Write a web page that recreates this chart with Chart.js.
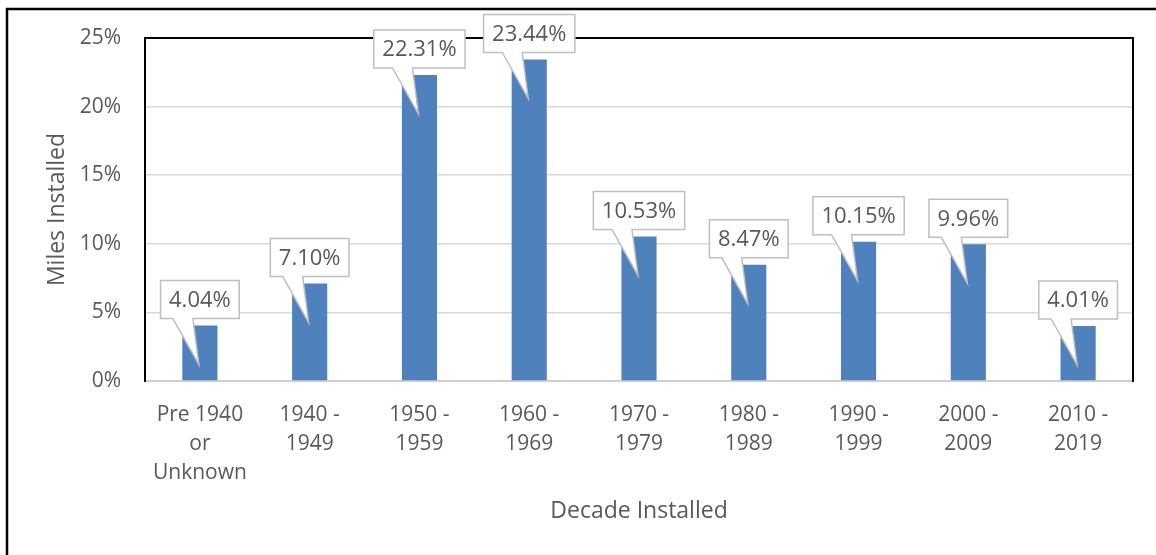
<!DOCTYPE html>
<html>
<head>
<meta charset="utf-8">
<style>
  html, body { margin: 0; padding: 0; background: #ffffff; }
  #wrap { width: 1156px; height: 555px; position: relative; }
</style>
<script src="https://cdn.jsdelivr.net/npm/chart.js@4.4.1/dist/chart.umd.min.js"></script>
</head>
<body>
<div id="wrap"><canvas id="chart" width="1156" height="555"></canvas></div>
<script>
// Share of pipe miles by decade of installation
const decades = [
  ['Pre 1940', 'or', 'Unknown'],
  ['1940 -', '1949'],
  ['1950 -', '1959'],
  ['1960 -', '1969'],
  ['1970 -', '1979'],
  ['1980 -', '1989'],
  ['1990 -', '1999'],
  ['2000 -', '2009'],
  ['2010 -', '2019']
];
const milesPct = [4.04, 7.10, 22.31, 23.44, 10.53, 8.47, 10.15, 9.96, 4.01];
const yTicks = [0, 5, 10, 15, 20, 25];

const FONT = "'Open Sans', 'Noto Sans', sans-serif";
const TEXT = '#595959';

// Outer frame and plot-area borders
const framePlugin = {
  id: 'frame',
  beforeDatasetsDraw(chart) {
    const { ctx, chartArea: a } = chart;
    ctx.save();
    // bottom axis line
    ctx.strokeStyle = '#bfbfbf';
    ctx.lineWidth = 1.5;
    ctx.beginPath();
    ctx.moveTo(a.left, a.bottom);
    ctx.lineTo(a.right, a.bottom);
    ctx.stroke();
    // black border on top, left and right
    ctx.strokeStyle = '#000000';
    ctx.lineWidth = 2;
    ctx.beginPath();
    ctx.moveTo(a.left, a.bottom + 1);
    ctx.lineTo(a.left, a.top);
    ctx.lineTo(a.right, a.top);
    ctx.lineTo(a.right, a.bottom + 1);
    ctx.stroke();
    ctx.restore();
  },
  afterDraw(chart) {
    const { ctx, width, height } = chart;
    ctx.save();
    ctx.strokeStyle = '#000000';
    ctx.lineWidth = 2.5;
    ctx.beginPath();
    ctx.moveTo(7, height);
    ctx.lineTo(7, 9);
    ctx.lineTo(width, 9);
    ctx.stroke();
    ctx.restore();
  }
};

// Callout-style value labels with a pointer into each bar
const calloutPlugin = {
  id: 'callouts',
  afterDraw(chart) {
    const { ctx } = chart;
    const meta = chart.getDatasetMeta(0);
    const values = chart.data.datasets[0].data;
    ctx.save();
    ctx.font = '22px ' + FONT;
    meta.data.forEach((bar, i) => {
      const text = values[i].toFixed(2) + '%';
      const tw = ctx.measureText(text).width;
      const cx = bar.x;
      const top = bar.y;
      const w = tw + 17;
      const h = 38;
      const L = cx - w / 2, R = cx + w / 2;
      const B = top - 7, T = B - h;
      const tipX = cx - 1, tipY = Math.min(top + 39, bar.base - 4);
      ctx.beginPath();
      ctx.moveTo(L, T);
      ctx.lineTo(R, T);
      ctx.lineTo(R, B);
      ctx.lineTo(cx - 7, B);
      ctx.lineTo(tipX, tipY);
      ctx.lineTo(cx - 27, B);
      ctx.lineTo(L, B);
      ctx.closePath();
      ctx.fillStyle = '#ffffff';
      ctx.fill();
      ctx.strokeStyle = '#bfbfbf';
      ctx.lineWidth = 1.5;
      ctx.lineJoin = 'miter';
      ctx.stroke();
      ctx.fillStyle = TEXT;
      ctx.textAlign = 'center';
      ctx.textBaseline = 'middle';
      ctx.fillText(text, cx, (T + B) / 2 + 1);
    });
    ctx.restore();
  }
};

new Chart(document.getElementById('chart'), {
  type: 'bar',
  data: {
    labels: decades,
    datasets: [{
      data: milesPct,
      backgroundColor: '#4f81bd',
      borderWidth: 0,
      categoryPercentage: 1,
      barPercentage: 0.32
    }]
  },
  options: {
    responsive: false,
    animation: false,
    events: [],
    layout: { padding: { top: 38, right: 23, left: 0, bottom: 0 } },
    plugins: {
      legend: { display: false },
      tooltip: { enabled: false }
    },
    scales: {
      x: {
        grid: { display: false, drawTicks: false },
        border: { display: false },
        ticks: {
          color: TEXT,
          font: { family: FONT, size: 21, lineHeight: 1.4 },
          padding: 19,
          maxRotation: 0,
          autoSkip: false
        },
        title: {
          display: true,
          text: 'Decade Installed',
          color: TEXT,
          font: { family: FONT, size: 23 },
          padding: { top: 0, bottom: 30 }
        },
        afterFit(scale) { scale.height = 174; }
      },
      y: {
        min: 0,
        max: 25,
        afterBuildTicks(scale) { scale.ticks = yTicks.map(v => ({ value: v })); },
        grid: {
          color: (c) => (c.tick && (c.tick.value === 0 || c.tick.value === 25)) ? 'rgba(0,0,0,0)' : '#d9d9d9',
          lineWidth: 1.5,
          drawTicks: false
        },
        border: { display: false },
        ticks: {
          color: TEXT,
          font: { family: FONT, size: 21 },
          padding: 24,
          callback: (v) => v + '%'
        },
        title: {
          display: true,
          text: 'Miles Installed',
          color: TEXT,
          font: { family: FONT, size: 23 },
          padding: { top: 44, bottom: 0 }
        },
        afterFit(scale) { scale.width = 145; }
      }
    }
  },
  plugins: [framePlugin, calloutPlugin]
});
</script>
</body>
</html>
